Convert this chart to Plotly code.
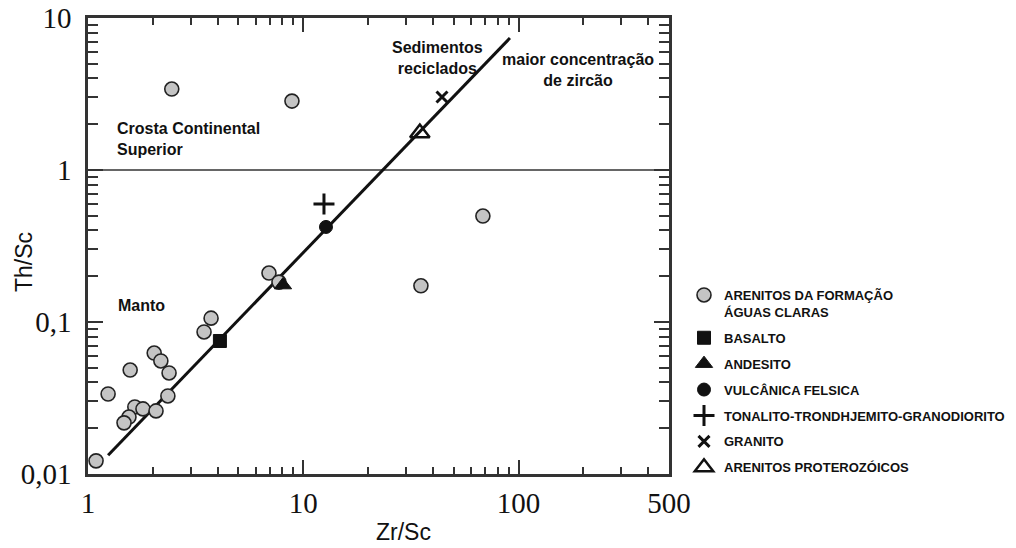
import plotly.graph_objects as go
import math

# ---------------- data ----------------
aguas_x = [2.45, 8.86, 68.3, 35.2, 6.93, 7.71, 3.73, 3.46, 2.03, 2.18, 2.38, 1.57,
           1.24, 2.35, 1.65, 1.80, 2.07, 1.55, 1.47, 1.09]
aguas_y = [3.41, 2.84, 0.498, 0.173, 0.210, 0.183, 0.106, 0.086, 0.0625, 0.0554, 0.0462,
           0.0483, 0.0336, 0.0326, 0.0276, 0.0268, 0.0260, 0.0237, 0.0217, 0.0122]
basalto_x, basalto_y = [4.10], [0.075]
andesito_x, andesito_y = [8.05], [0.175]
felsica_x, felsica_y = [12.75], [0.422]
ttg_x, ttg_y = [12.48], [0.597]
granito_x, granito_y = [44.1], [3.02]
protero_x, protero_y = [34.8], [1.75]
trend_x, trend_y = [1.24, 91.2], [0.0133, 7.38]
boundary_x, boundary_y = [1, 500], [1, 1]

x_tickvals = [1, 10, 100, 500]
x_ticktext = ["1", "10", "100", "500"]
x_minor = [2, 3, 4, 5, 6, 7, 8, 9, 20, 30, 40, 50, 60, 70, 80, 90, 200, 300, 400]
y_tickvals = [0.01, 0.1, 1, 10]
y_ticktext = ["0,01", "0,1", "1", "10"]
y_minor = [0.02, 0.03, 0.04, 0.05, 0.06, 0.07, 0.08, 0.09,
           0.2, 0.3, 0.4, 0.5, 0.6, 0.7, 0.8, 0.9, 2, 3, 4, 5, 6, 7, 8, 9]

# ---------------- layout geometry ----------------
W, H = 1016, 548
L, R, T, B = 88, 669, 18, 474
def px(x):
    return (x - L) / (R - L)
def py(y):
    return (B - y) / (B - T)

INK = "#222222"
fig = go.Figure()

fig.add_trace(go.Scatter(x=boundary_x, y=boundary_y, mode="lines",
                         line=dict(color="#333333", width=1.6), showlegend=False, hoverinfo="skip"))
fig.add_trace(go.Scatter(x=trend_x, y=trend_y, mode="lines",
                         line=dict(color="#111111", width=3), showlegend=False, hoverinfo="skip"))

fig.add_trace(go.Scatter(x=aguas_x, y=aguas_y, mode="markers", legendgroup="a",
                         name="ARENITOS DA FORMAÇÃO<br>ÁGUAS CLARAS",
                         marker=dict(symbol="circle", size=14, color="#c4c4c4",
                                     line=dict(color=INK, width=1.6))))
fig.add_trace(go.Scatter(x=basalto_x, y=basalto_y, mode="markers", legendgroup="b",
                         name="BASALTO",
                         marker=dict(symbol="square", size=13, color="#111111",
                                     line=dict(color="#111111", width=1))))
fig.add_trace(go.Scatter(x=andesito_x, y=andesito_y, mode="markers", legendgroup="c",
                         name="ANDESITO",
                         marker=dict(symbol="triangle-up", size=15, color="#111111",
                                     line=dict(color="#111111", width=1))))
fig.add_trace(go.Scatter(x=felsica_x, y=felsica_y, mode="markers", legendgroup="d",
                         name="VULCÂNICA FELSICA",
                         marker=dict(symbol="circle", size=13, color="#111111",
                                     line=dict(color="#111111", width=1))))
fig.add_trace(go.Scatter(x=ttg_x, y=ttg_y, mode="markers", legendgroup="e",
                         name="TONALITO-TRONDHJEMITO-GRANODIORITO",
                         marker=dict(symbol="cross-thin", size=15, color="#111111",
                                     line=dict(color="#111111", width=3))))
fig.add_trace(go.Scatter(x=granito_x, y=granito_y, mode="markers", legendgroup="f",
                         name="GRANITO",
                         marker=dict(symbol="x-thin", size=11, color="#111111",
                                     line=dict(color="#111111", width=3))))
fig.add_trace(go.Scatter(x=protero_x, y=protero_y, mode="markers", legendgroup="g",
                         name="ARENITOS PROTEROZÓICOS",
                         marker=dict(symbol="triangle-up-open", size=17, color="#111111",
                                     line=dict(color="#111111", width=2.5))))

axis_common = dict(
    type="log", showgrid=False, zeroline=False, automargin=False,
    showline=True, linewidth=2.5, linecolor="#333333", mirror="ticks",
    ticks="inside", tickwidth=1.5, tickcolor="#333333",
    tickfont=dict(family="Liberation Serif", size=29, color="#111111"),
)

fig.update_xaxes(**axis_common, range=[0, math.log10(500)],
                 tickmode="array", tickvals=x_tickvals, ticktext=x_ticktext,
                 ticklen=14, ticklabelstandoff=1,
                 minor=dict(tickmode="array", tickvals=x_minor, ticks="inside",
                            ticklen=7, tickwidth=1.5, tickcolor="#333333", showgrid=False))
fig.update_yaxes(**axis_common, range=[-2, 1],
                 tickmode="array", tickvals=y_tickvals, ticktext=y_ticktext,
                 ticklen=15, ticklabelstandoff=8,
                 minor=dict(tickmode="array", tickvals=y_minor, ticks="inside",
                            ticklen=10, tickwidth=1.5, tickcolor="#333333", showgrid=False))

bold = dict(family="Liberation Sans", size=16, color="#111111", weight="bold")
ann = [
    dict(text="Crosta Continental<br>Superior", x=px(115), y=py(139), xanchor="left",
         yanchor="middle", align="left", font=bold),
    dict(text="Manto", x=px(116), y=py(305), xanchor="left", yanchor="middle",
         align="left", font=bold),
    dict(text="Sedimentos<br>reciclados", x=px(437), y=py(58), xanchor="center",
         yanchor="middle", align="center", font=bold),
    dict(text="maior concentração<br>de zircão", x=px(578), y=py(70), xanchor="center",
         yanchor="middle", align="center", font=bold),
    dict(text="Zr/Sc", x=px(403), y=py(532), xanchor="center", yanchor="middle",
         font=dict(family="Liberation Sans", size=23, color="#111111")),
    dict(text="Th/Sc", x=px(24), y=py(262), xanchor="center", yanchor="middle",
         textangle=-90, font=dict(family="Liberation Sans", size=23, color="#111111")),
]
for a in ann:
    a.update(xref="paper", yref="paper", showarrow=False)

fig.update_layout(
    width=W, height=H,
    margin=dict(l=L, r=W - R, t=T, b=H - B, autoexpand=False),
    plot_bgcolor="white", paper_bgcolor="white",
    annotations=ann,
    legend=dict(xref="container", yref="container", x=684 / W, y=1 - 280 / H,
                xanchor="left", yanchor="top", valign="top",
                font=dict(family="Liberation Sans", size=13, color="#111111", weight="bold"),
                bgcolor="rgba(0,0,0,0)", tracegroupgap=6, itemwidth=30),
)

fig.write_html("out.html")
